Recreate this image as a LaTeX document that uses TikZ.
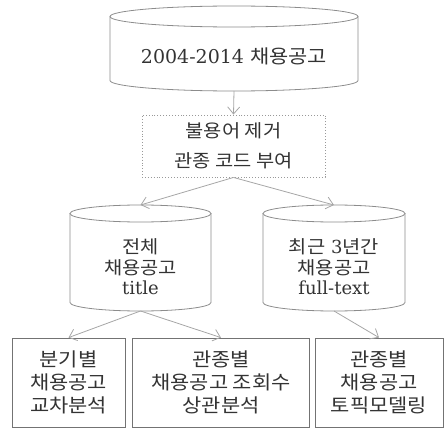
\documentclass[tikz,border=0pt]{standalone}
\usepackage{fontspec}
\setmainfont{DejaVu Serif}
\newfontfamily\kr[FakeStretch=1.1]{Noto Sans CJK KR}
\usetikzlibrary{arrows.meta}

\begin{document}
\begin{tikzpicture}[x=1pt, y=-1pt,
    db/.style={inner sep=0pt, outer sep=0pt},
    dbline/.style={draw=black!45, line width=0.8pt},
    dbtxt/.style={align=center, text=black!80, inner sep=0pt, font=\fontsize{18}{20.5}\selectfont},
    prep/.style={draw=black!40, dotted, line width=0.9pt, minimum width=183pt, minimum height=62pt, align=center, text=black!80, font=\fontsize{18}{30}\selectfont\kr},
    task/.style={draw=black!55, line width=0.8pt, minimum height=89pt, inner sep=0pt, align=center, text=black!80, font=\fontsize{19}{23}\selectfont\kr},
    arr/.style={-{Straight Barb[length=7pt,width=12pt]}, draw=black!35, line width=0.8pt},
  ]
  \useasboundingbox (0,0) rectangle (448,428);

  % Source database
  \node[db, minimum width=248pt, minimum height=85pt] (src) at (234,48.5) {};
  \draw[dbline] (src.north west) ++(0,10.5) -- ([yshift=10.5pt]src.south west)
    arc[start angle=180, end angle=360, x radius=124pt, y radius=10.5pt] -- ([yshift=-10.5pt]src.north east);
  \draw[dbline] ([yshift=-10.5pt]src.north) ellipse[x radius=124pt, y radius=10.5pt];
  \node[dbtxt, font=\fontsize{19}{22}\selectfont] (src-txt) at (234,56) {2004-2014 {\kr 채용공고}};

  % Preprocessing
  \node[prep] (prep) at (233.5,146) {불용어 제거\\관종 코드 부여};

  % Split databases
  \node[db, minimum width=141pt, minimum height=106pt] (all) at (140.5,258) {};
  \draw[dbline] (all.north west) ++(0,8.5) -- ([yshift=8.5pt]all.south west)
    arc[start angle=180, end angle=360, x radius=70.5pt, y radius=8.5pt] -- ([yshift=-8.5pt]all.north east);
  \draw[dbline] ([yshift=-8.5pt]all.north) ellipse[x radius=70.5pt, y radius=8.5pt];
  \node[dbtxt] (all-txt) at (140.5,267) {{\kr 전체}\\{\kr 채용공고}\\title};

  \node[db, minimum width=142pt, minimum height=106pt] (recent) at (334,258) {};
  \draw[dbline] (recent.north west) ++(0,8.5) -- ([yshift=8.5pt]recent.south west)
    arc[start angle=180, end angle=360, x radius=71pt, y radius=8.5pt] -- ([yshift=-8.5pt]recent.north east);
  \draw[dbline] ([yshift=-8.5pt]recent.north) ellipse[x radius=71pt, y radius=8.5pt];
  \node[dbtxt] (recent-txt) at (334,267) {{\kr 최근} 3{\kr 년간}\\{\kr 채용공고}\\full-text};

  % Analyses
  \node[task, minimum width=113pt] (quarter) at (68.5,382.5) {분기별\\채용공고\\교차분석};
  \node[task, minimum width=177pt] (corr)    at (221,382.5)  {관종별\\채용공고 조회수\\상관분석};
  \node[task, minimum width=128pt] (topic)   at (379,382.5)  {관종별\\채용공고\\토픽모델링};

  % Edges
  \draw[arr] (src.south)    -- (prep.north);
  \draw[arr] (prep.south)   -- (all.north);
  \draw[arr] (prep.south)   -- (recent.north);
  \draw[arr] (all.south)    -- (quarter.north);
  \draw[arr] (all.south)    -- (corr.north);
  \draw[arr] (recent.south) -- (topic.north);
\end{tikzpicture}
\end{document}
